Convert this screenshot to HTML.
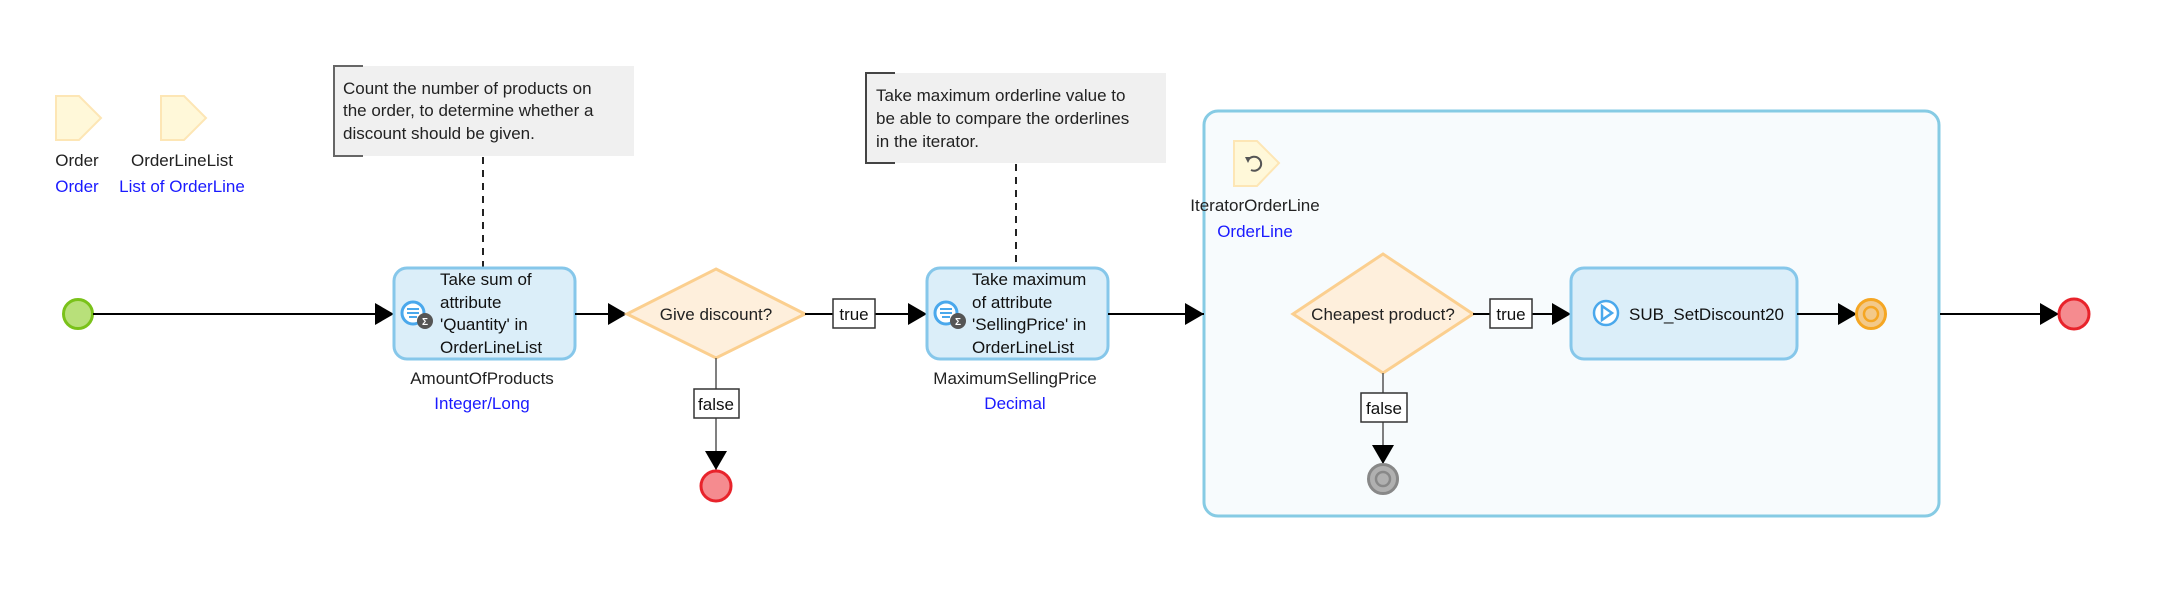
<!DOCTYPE html>
<html><head><meta charset="utf-8"><style>
html,body{margin:0;padding:0;background:#fff;}
svg{display:block;font-family:"Liberation Sans",sans-serif;}
</style></head><body>
<svg width="2165" height="591" viewBox="0 0 2165 591" xmlns="http://www.w3.org/2000/svg">
<defs>
<marker id="ah" markerWidth="20" markerHeight="22" refX="19" refY="11" orient="auto" markerUnits="userSpaceOnUse">
<path d="M0,0 L19,11 L0,22 z" fill="#000"/></marker>
</defs>
<rect x="1204" y="111" width="735" height="405" rx="14" fill="#f7fbfd" stroke="#86cbe4" stroke-width="3"/>

<path d="M56,96 L79,96 L101,118 L79,140 L56,140 z" fill="#fff8d9" stroke="#fde6b5" stroke-width="2"/>
<text x="77" y="166" font-size="17" text-anchor="middle" fill="#222">Order</text>
<text x="77" y="192" font-size="17" text-anchor="middle" fill="#1a1aff">Order</text>
<path d="M161,96 L184,96 L206,118 L184,140 L161,140 z" fill="#fff8d9" stroke="#fde6b5" stroke-width="2"/>
<text x="182" y="166" font-size="17" text-anchor="middle" fill="#222">OrderLineList</text>
<text x="182" y="192" font-size="17" text-anchor="middle" fill="#1a1aff">List of OrderLine</text>

<rect x="334" y="66" width="300" height="90" fill="#f0f0f0"/>
<path d="M363,66 L334,66 L334,156 L363,156" fill="none" stroke="#666" stroke-width="2"/>
<text font-size="17" fill="#222"><tspan x="343" y="94">Count the number of products on</tspan><tspan x="343" y="116">the order, to determine whether a</tspan><tspan x="343" y="139">discount should be given.</tspan></text>
<line x1="483" y1="157" x2="483" y2="267" stroke="#222" stroke-width="2" stroke-dasharray="7,6"/>

<rect x="866" y="73" width="300" height="90" fill="#f0f0f0"/>
<path d="M895,73 L866,73 L866,163 L895,163" fill="none" stroke="#444" stroke-width="2"/>
<text font-size="17" fill="#222"><tspan x="876" y="101">Take maximum orderline value to</tspan><tspan x="876" y="124">be able to compare the orderlines</tspan><tspan x="876" y="147">in the iterator.</tspan></text>
<line x1="1016" y1="164" x2="1016" y2="267" stroke="#222" stroke-width="2" stroke-dasharray="7,6"/>

<circle cx="78" cy="314" r="14.5" fill="#b8e07a" stroke="#7ac21a" stroke-width="3"/>
<line x1="93" y1="314" x2="394" y2="314" stroke="#000" stroke-width="2" marker-end="url(#ah)"/>

<rect x="394" y="268" width="181" height="91" rx="13" fill="#dbeef9" stroke="#86c7ea" stroke-width="3"/>
<circle cx="413" cy="313" r="11" fill="#fff" stroke="#4aa8ec" stroke-width="3"/>
<path d="M407,309 h12 M407,313 h12 M409,317 h8" stroke="#4aa8ec" stroke-width="2"/>
<circle cx="425" cy="321" r="8" fill="#555"/>
<text x="425" y="325" font-size="10" fill="#fff" text-anchor="middle" font-weight="bold">Σ</text>
<text font-size="17" fill="#111"><tspan x="440" y="285">Take sum of</tspan><tspan x="440" y="308">attribute</tspan><tspan x="440" y="330">'Quantity' in</tspan><tspan x="440" y="353">OrderLineList</tspan></text>
<text x="482" y="384" font-size="17" text-anchor="middle" fill="#222">AmountOfProducts</text>
<text x="482" y="409" font-size="17" text-anchor="middle" fill="#1a1aff">Integer/Long</text>
<line x1="575" y1="314" x2="627" y2="314" stroke="#000" stroke-width="2" marker-end="url(#ah)"/>

<path d="M716,269 L805,314 L716,358 L627,314 z" fill="#feefdc" stroke="#fbcf8f" stroke-width="3"/>
<text x="716" y="320" font-size="17" text-anchor="middle" fill="#222">Give discount?</text>
<line x1="805" y1="314" x2="927" y2="314" stroke="#000" stroke-width="2" marker-end="url(#ah)"/>
<rect x="833" y="299" width="42" height="29" fill="#fff" stroke="#333" stroke-width="1.5"/>
<text x="854" y="320" font-size="17" text-anchor="middle" fill="#111">true</text>
<line x1="716" y1="358" x2="716" y2="470" stroke="#555" stroke-width="1.5" marker-end="url(#ah)"/>
<rect x="694" y="389" width="45" height="29" fill="#fff" stroke="#333" stroke-width="1.5"/>
<text x="716" y="410" font-size="17" text-anchor="middle" fill="#111">false</text>
<circle cx="716" cy="486" r="15" fill="#f58b8f" stroke="#e8232b" stroke-width="3"/>

<rect x="927" y="268" width="181" height="91" rx="13" fill="#dbeef9" stroke="#86c7ea" stroke-width="3"/>
<circle cx="946" cy="313" r="11" fill="#fff" stroke="#4aa8ec" stroke-width="3"/>
<path d="M940,309 h12 M940,313 h12 M942,317 h8" stroke="#4aa8ec" stroke-width="2"/>
<circle cx="958" cy="321" r="8" fill="#555"/>
<text x="958" y="325" font-size="10" fill="#fff" text-anchor="middle" font-weight="bold">Σ</text>
<text font-size="17" fill="#111"><tspan x="972" y="285">Take maximum</tspan><tspan x="972" y="308">of attribute</tspan><tspan x="972" y="330">'SellingPrice' in</tspan><tspan x="972" y="353">OrderLineList</tspan></text>
<text x="1015" y="384" font-size="17" text-anchor="middle" fill="#222">MaximumSellingPrice</text>
<text x="1015" y="409" font-size="17" text-anchor="middle" fill="#1a1aff">Decimal</text>
<line x1="1108" y1="314" x2="1204" y2="314" stroke="#000" stroke-width="2" marker-end="url(#ah)"/>

<path d="M1234,141 L1257,141 L1279,163 L1257,186 L1234,186 z" fill="#fff8d9" stroke="#fde6b5" stroke-width="2"/>
<path d="M1249,159 A7,7 0 1 1 1251,170" fill="none" stroke="#555" stroke-width="2"/>
<path d="M1245,157 L1251,157 L1248,163 z" fill="#555"/>
<text x="1255" y="211" font-size="17" text-anchor="middle" fill="#222">IteratorOrderLine</text>
<text x="1255" y="237" font-size="17" text-anchor="middle" fill="#1a1aff">OrderLine</text>

<path d="M1383,254 L1473,314 L1383,373 L1293,314 z" fill="#feefdc" stroke="#fbcf8f" stroke-width="3"/>
<text x="1383" y="320" font-size="17" text-anchor="middle" fill="#222">Cheapest product?</text>
<line x1="1473" y1="314" x2="1571" y2="314" stroke="#000" stroke-width="2" marker-end="url(#ah)"/>
<rect x="1490" y="299" width="42" height="29" fill="#fff" stroke="#333" stroke-width="1.5"/>
<text x="1511" y="320" font-size="17" text-anchor="middle" fill="#111">true</text>
<line x1="1383" y1="373" x2="1383" y2="464" stroke="#555" stroke-width="1.5" marker-end="url(#ah)"/>
<rect x="1361" y="393" width="46" height="29" fill="#fff" stroke="#333" stroke-width="1.5"/>
<text x="1384" y="414" font-size="17" text-anchor="middle" fill="#111">false</text>
<circle cx="1383" cy="479" r="14.5" fill="#b0b0b0" stroke="#888" stroke-width="3"/>
<circle cx="1383" cy="479" r="7" fill="none" stroke="#888" stroke-width="2.5"/>

<rect x="1571" y="268" width="226" height="91" rx="13" fill="#dbeef9" stroke="#86c7ea" stroke-width="3"/>
<circle cx="1606" cy="313" r="12" fill="#fff" stroke="#4aa8ec" stroke-width="2.5"/>
<path d="M1602,306 L1612,313 L1602,320 z" fill="none" stroke="#4aa8ec" stroke-width="2.5"/>
<text x="1629" y="320" font-size="17" fill="#111">SUB_SetDiscount20</text>
<line x1="1797" y1="314" x2="1857" y2="314" stroke="#000" stroke-width="2" marker-end="url(#ah)"/>
<circle cx="1871" cy="314" r="14.5" fill="#f3c98a" stroke="#f5a623" stroke-width="3"/>
<circle cx="1871" cy="314" r="7" fill="none" stroke="#f5a623" stroke-width="2.5"/>

<line x1="1940" y1="314" x2="2059" y2="314" stroke="#000" stroke-width="2" marker-end="url(#ah)"/>
<circle cx="2074" cy="314" r="15" fill="#f58b8f" stroke="#e8232b" stroke-width="3"/>
</svg>
</body></html>
